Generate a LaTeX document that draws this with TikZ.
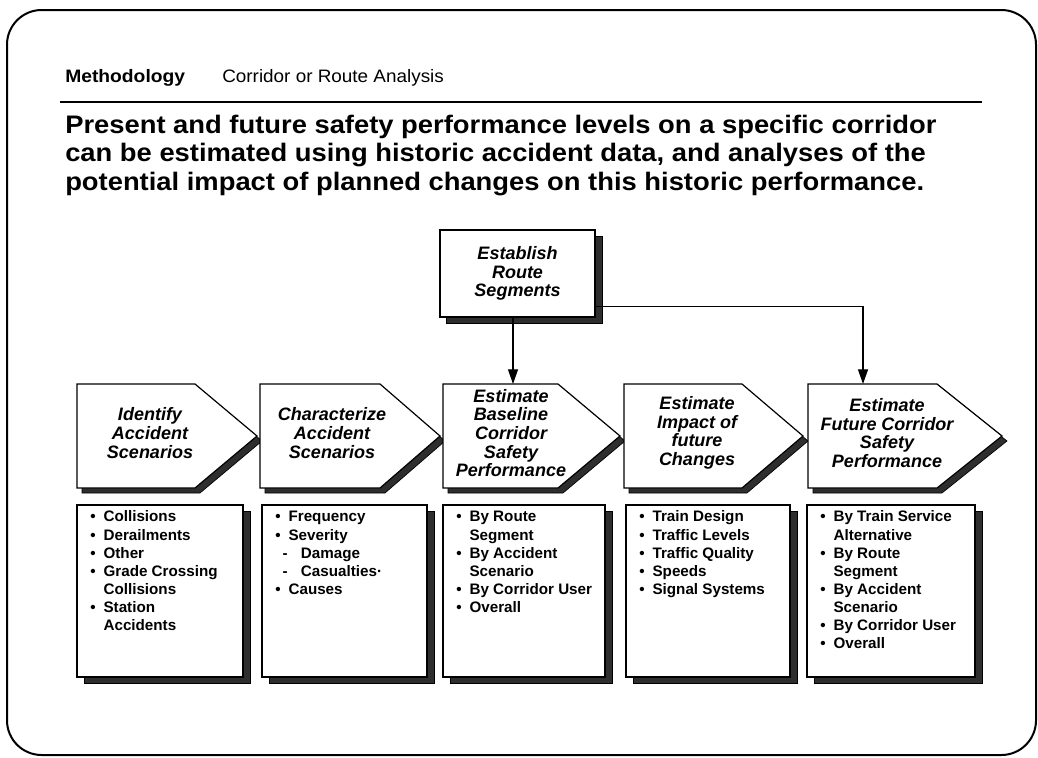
\documentclass[tikz,border=0pt]{standalone}
\usepackage{fontspec}
\setmainfont{Liberation Sans}
\usetikzlibrary{arrows.meta}
\tikzset{
  frame/.style={line width=1.5pt, rounded corners=26pt},
  shapebox/.style={draw=black, line width=0.9pt, fill=white},
  shad/.style={fill=black!82, draw=black, line width=0.5pt},
  ctitle/.style={font=\fontsize{13.5}{14}\selectfont\bfseries\itshape, align=center, inner sep=0pt},
  listtext/.style={font=\fontsize{11.4}{13.6}\selectfont\bfseries, anchor=north west, inner sep=0pt},
  conn/.style={line width=0.9pt, -{Triangle[width=7.5pt,length=11pt]}},
}
\newcommand\mychev[6]{% name, L, C, P, text x, text
  \fill[shad] (#2+5,389) -- (#3+5,389) -- (#4+5,441) -- (#3+5,493) -- (#2+5,493) -- cycle;
  \draw[shapebox] (#2,384) -- (#3,384) -- (#4,436) -- (#3,488) -- (#2,488) -- cycle;
  \node[ctitle] (#1) at (#5,433) {#6};
}
\newcommand\mylist[4]{% name, L, R, body
  \fill[shad] (#2+7,511) rectangle (#3+7,683);
  \draw[shapebox] (#2,505) rectangle (#3,677);
  \node[listtext] (#1) at (#2+13,509) {\begin{tabular}{@{}l@{\hspace{6pt}}l@{}}#4\end{tabular}};
}
\newcommand\bu{\textbullet}
\newcommand\subit[1]{\hspace*{-4.5pt}-\hspace{10pt}#1}
\begin{document}
\begin{tikzpicture}[x=0.75pt,y=-0.75pt]
\useasboundingbox (0,0) rectangle (1038,757);
\draw[frame] (7,10) rectangle (1036,755);

\node[anchor=base west, inner sep=0pt, font=\fontsize{13.5}{15}\selectfont\bfseries] (meth) at (65,82) {\scalebox{1.07}[1]{Methodology}};
\node[anchor=base west, inner sep=0pt, font=\fontsize{13.5}{15}\selectfont] (sub) at (222,82) {\scalebox{1.05}[1]{Corridor or Route Analysis}};
\draw[line width=1.3pt] (60,102) -- (982,102);
\node[anchor=north west, inner sep=0pt, font=\fontsize{19}{21.4}\selectfont\bfseries] (head) at (65,113)
 {\scalebox{1.08}[1]{\begin{tabular}{@{}l@{}}Present and future safety performance levels on a specific corridor\\
  can be estimated using historic accident data, and analyses of the\\
  potential impact of planned changes on this historic performance.\end{tabular}}};

% Establish box
\fill[shad] (446,236) rectangle (602,323);
\node[shapebox, minimum width=116.25pt, minimum height=65.25pt, ctitle, inner sep=0pt] (est) at (517.5,273.5)
 {Establish\\Route\\Segments};

% chevrons
\mychev{c1}{77}{195}{257}{150}{Identify\\Accident\\Scenarios}
\mychev{c2}{260}{380}{440}{332}{Characterize\\Accident\\Scenarios}
\mychev{c3}{443}{558}{620}{511}{Estimate\\Baseline\\Corridor\\Safety\\Performance}
\mychev{c4}{624}{742}{803}{697}{Estimate\\Impact of\\future\\Changes}
\mychev{c5}{808}{937}{1002}{887}{Estimate\\Future Corridor\\Safety\\Performance}
\coordinate (c3top) at (513,384);
\coordinate (c5top) at (863,384);

% connectors
\draw[conn] (c3top |- est.south) -- (c3top);
\draw[conn] ([yshift=8.25pt]est.south east) -| (c5top);

% lists
\mylist{l1}{77}{243}{\bu & Collisions\\ \bu & Derailments\\ \bu & Other\\ \bu & Grade Crossing\\ & Collisions\\ \bu & Station\\ & Accidents}
\mylist{l2}{262}{427}{\bu & Frequency\\ \bu & Severity\\ & \subit{Damage}\\ & \subit{Casualties·}\\ \bu & Causes}
\mylist{l3}{443}{605}{\bu & By Route\\ & Segment\\ \bu & By Accident\\ & Scenario\\ \bu & By Corridor User\\ \bu & Overall}
\mylist{l4}{626}{790}{\bu & Train Design\\ \bu & Traffic Levels\\ \bu & Traffic Quality\\ \bu & Speeds\\ \bu & Signal Systems}
\mylist{l5}{807}{975}{\bu & By Train Service\\ & Alternative\\ \bu & By Route\\ & Segment\\ \bu & By Accident\\ & Scenario\\ \bu & By Corridor User\\ \bu & Overall}
\end{tikzpicture}
\end{document}
